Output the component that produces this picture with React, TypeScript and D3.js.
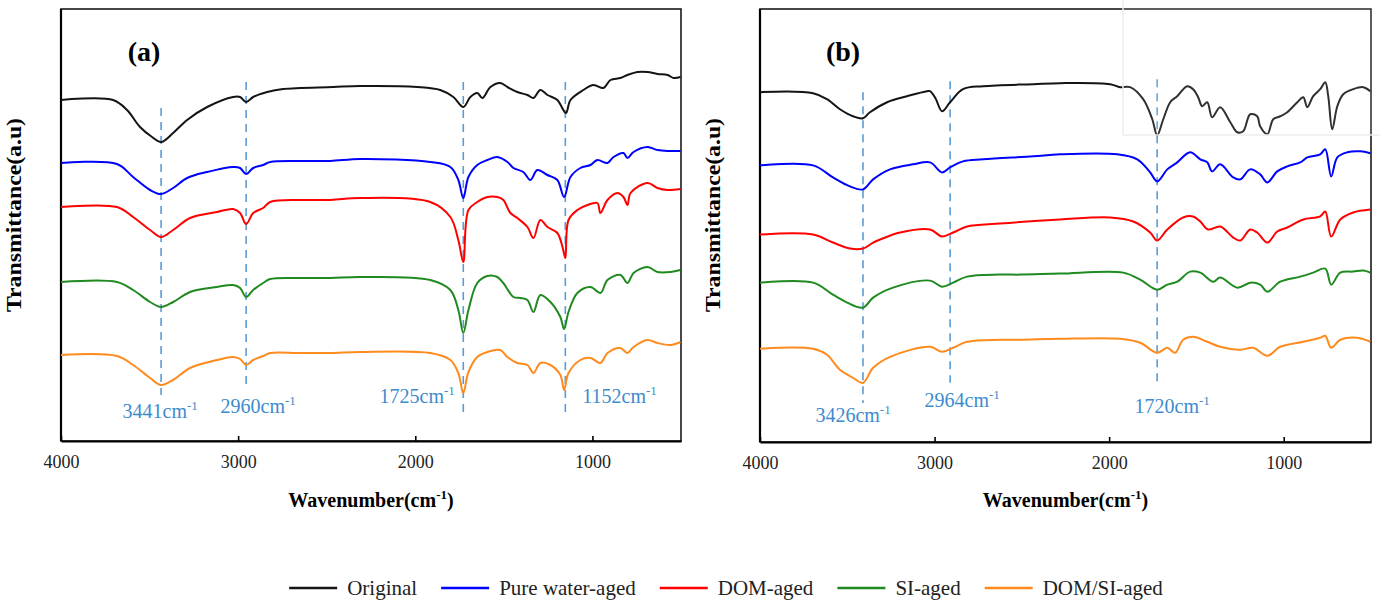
import React, { useRef, useEffect } from "react";
import * as d3 from "d3";

type Pt = [number, number];

const seriesNames = ["Original", "Pure water-aged", "DOM-aged", "SI-aged", "DOM/SI-aged"];
const seriesColors = ["#141414", "#0000ff", "#ff0000", "#1f8a1f", "#ff8a1e"];
const xTicks = [4000, 3000, 2000, 1000];

// panel (a) spectra: [wavenumber, transmittance a.u.]
const aOriginal: Pt[] = [
  [4000, 341], [3706, 341], [3627, 331], [3554, 314], [3486, 304], [3435, 299], [3367, 308], [3288, 321],
  [3175, 334], [3028, 344], [2989, 344], [2955, 339], [2915, 344], [2836, 349], [2746, 352], [2463, 354],
  [2311, 355], [1989, 354], [1859, 351], [1785, 344], [1729, 334], [1689, 344], [1650, 348], [1621, 343],
  [1576, 354], [1520, 358], [1480, 354], [1424, 349], [1367, 346], [1333, 343], [1294, 351], [1254, 346],
  [1198, 341], [1150, 328], [1124, 341], [1051, 351], [994, 356], [938, 353], [898, 361], [842, 363],
  [802, 366], [746, 369], [689, 369], [633, 367], [576, 366], [542, 363], [503, 364],
];
const aPureWater: Pt[] = [
  [4000, 278], [3684, 277], [3593, 264], [3497, 251], [3435, 247], [3367, 253], [3288, 263], [3175, 269],
  [3028, 274], [2989, 273], [2955, 267], [2915, 273], [2859, 276], [2819, 279], [2650, 280], [2480, 280],
  [2311, 282], [1915, 279], [1802, 274], [1757, 261], [1729, 243], [1700, 264], [1650, 276], [1593, 281],
  [1537, 284], [1480, 279], [1446, 273], [1390, 269], [1350, 261], [1311, 271], [1254, 266], [1198, 261],
  [1160, 244], [1124, 264], [1068, 273], [1011, 276], [972, 281], [915, 278], [881, 284], [825, 288],
  [802, 283], [768, 289], [689, 294], [633, 291], [576, 290], [503, 290],
];
const aDom: Pt[] = [
  [4000, 234], [3684, 234], [3593, 224], [3497, 211], [3435, 204], [3367, 211], [3271, 223], [3119, 229],
  [3028, 232], [2989, 228], [2955, 217], [2915, 228], [2859, 233], [2819, 239], [2650, 241], [2480, 241],
  [2311, 243], [1915, 239], [1802, 224], [1757, 201], [1729, 179], [1700, 231], [1650, 239], [1593, 244],
  [1537, 244], [1503, 241], [1463, 228], [1424, 223], [1367, 214], [1333, 203], [1294, 221], [1254, 214],
  [1198, 208], [1169, 194], [1153, 183], [1135, 221], [1085, 231], [1028, 236], [972, 238], [955, 228],
  [915, 241], [859, 248], [825, 244], [802, 236], [785, 248], [689, 258], [633, 253], [576, 251], [503, 252],
];
const aSi: Pt[] = [
  [4000, 159], [3684, 159], [3593, 151], [3497, 139], [3435, 134], [3367, 139], [3271, 149], [3119, 154],
  [3028, 156], [2989, 153], [2955, 144], [2915, 151], [2859, 158], [2819, 162], [2650, 163], [2480, 163],
  [2311, 164], [1915, 161], [1802, 151], [1757, 131], [1729, 108], [1700, 131], [1650, 158], [1593, 165],
  [1537, 164], [1503, 158], [1446, 144], [1407, 143], [1367, 141], [1333, 129], [1294, 146], [1237, 139],
  [1181, 124], [1160, 112], [1135, 129], [1085, 148], [1011, 154], [955, 148], [915, 161], [842, 166],
  [802, 158], [768, 168], [689, 174], [633, 169], [559, 169], [503, 171],
];
const aDomSi: Pt[] = [
  [4000, 86], [3684, 85], [3593, 76], [3497, 63], [3435, 56], [3367, 61], [3271, 73], [3119, 81],
  [3028, 84], [2989, 82], [2955, 76], [2915, 81], [2859, 85], [2819, 88], [2650, 88], [2480, 88],
  [2311, 89], [1915, 88], [1802, 81], [1757, 68], [1729, 48], [1700, 69], [1650, 84], [1593, 89],
  [1520, 91], [1480, 84], [1424, 78], [1367, 76], [1333, 68], [1294, 78], [1237, 76], [1181, 66],
  [1160, 51], [1135, 68], [1068, 81], [1011, 83], [955, 78], [915, 88], [842, 93], [802, 88],
  [768, 94], [689, 101], [633, 98], [559, 96], [503, 99],
];

// panel (b) spectra
const bOriginal: Pt[] = [
  [4000, 349], [3696, 348], [3616, 342], [3542, 332], [3467, 325], [3410, 323], [3370, 329], [3272, 339],
  [3158, 345], [3043, 350], [3026, 350], [2995, 343], [2957, 330], [2911, 339], [2837, 352], [2722, 355],
  [2435, 357], [2281, 358], [1994, 357], [1937, 354], [1880, 354], [1805, 342], [1753, 322], [1725, 306],
  [1690, 322], [1650, 339], [1610, 345], [1553, 355], [1519, 352], [1490, 344], [1467, 335], [1438, 339],
  [1410, 324], [1364, 334], [1306, 319], [1266, 309], [1232, 310], [1192, 327], [1152, 325], [1135, 315],
  [1094, 307], [1060, 322], [1020, 325], [980, 329], [922, 339], [888, 344], [865, 334], [831, 345],
  [791, 352], [762, 359], [745, 345], [722, 312], [693, 335], [659, 347], [602, 352], [544, 354], [504, 350],
];
const bPureWater: Pt[] = [
  [4000, 276], [3696, 276], [3582, 264], [3484, 255], [3410, 252], [3352, 262], [3255, 272], [3123, 277],
  [3026, 279], [2957, 269], [2911, 274], [2837, 280], [2722, 282], [2435, 285], [2281, 287], [1954, 287],
  [1839, 282], [1765, 269], [1725, 260], [1667, 272], [1610, 279], [1536, 289], [1478, 282], [1438, 279],
  [1410, 270], [1364, 277], [1289, 264], [1249, 262], [1192, 272], [1135, 267], [1094, 259], [1037, 270],
  [980, 275], [905, 279], [865, 284], [791, 287], [762, 292], [728, 265], [693, 284], [636, 289],
  [561, 290], [504, 288],
];
const bDom: Pt[] = [
  [4000, 207], [3696, 207], [3582, 199], [3484, 193], [3410, 193], [3352, 199], [3312, 202], [3198, 209],
  [3026, 212], [2957, 205], [2894, 209], [2814, 215], [2625, 218], [2281, 222], [1994, 224], [1862, 220],
  [1765, 209], [1725, 201], [1667, 212], [1576, 224], [1519, 225], [1478, 220], [1433, 212], [1364, 215],
  [1289, 204], [1249, 201], [1192, 212], [1152, 209], [1094, 199], [1037, 210], [980, 214], [888, 222],
  [791, 225], [762, 230], [728, 205], [676, 222], [602, 229], [504, 232],
];
const bSi: Pt[] = [
  [4000, 159], [3696, 159], [3582, 147], [3501, 139], [3410, 134], [3352, 144], [3238, 154], [3026, 161],
  [2957, 155], [2894, 159], [2814, 165], [2625, 167], [2510, 167], [2281, 168], [1920, 169], [1822, 162],
  [1725, 152], [1667, 157], [1610, 160], [1536, 170], [1478, 169], [1404, 160], [1364, 164], [1266, 154],
  [1192, 159], [1135, 157], [1094, 150], [1020, 160], [905, 165], [831, 169], [762, 173], [728, 157],
  [676, 169], [602, 170], [544, 171], [504, 169],
];
const bDomSi: Pt[] = [
  [4000, 93], [3696, 93], [3616, 87], [3542, 72], [3467, 64], [3410, 59], [3352, 74], [3255, 85],
  [3026, 95], [2957, 90], [2894, 94], [2814, 100], [2625, 102], [2510, 102], [2281, 103], [1937, 103],
  [1822, 99], [1725, 89], [1667, 94], [1622, 89], [1576, 102], [1519, 105], [1438, 100], [1364, 95],
  [1249, 92], [1175, 94], [1094, 86], [1020, 95], [888, 100], [791, 104], [762, 106], [728, 94],
  [676, 102], [579, 104], [504, 100],
];

// marked bands: line position, vertical extent, label and label anchor
const aMarkers = [
  { wn: 3435, top: 333, bottom: 46, label: "3441", labelWn: 3440, labelVal: 23 },
  { wn: 2955, top: 359, bottom: 56, label: "2960", labelWn: 2887, labelVal: 28 },
  { wn: 1729, top: 359, bottom: 29, label: "1725", labelWn: 1989, labelVal: 38 },
  { wn: 1153, top: 359, bottom: 29, label: "1152", labelWn: 847, labelVal: 38 },
];
const bMarkers = [
  { wn: 3410, top: 349, bottom: 39, label: "3426", labelWn: 3467, labelVal: 20 },
  { wn: 2911, top: 360, bottom: 59, label: "2964", labelWn: 2842, labelVal: 35 },
  { wn: 1725, top: 362, bottom: 59, label: "1720", labelWn: 1639, labelVal: 29 },
];

const panels = [
  { tag: "(a)", series: [aOriginal, aPureWater, aDom, aSi, aDomSi], markers: aMarkers, left: 61, right: 681, top: 9, bottom: 441 },
  { tag: "(b)", series: [bOriginal, bPureWater, bDom, bSi, bDomSi], markers: bMarkers, left: 760, right: 1371, top: 9, bottom: 442 },
];

const FONT = "'Liberation Serif', 'Times New Roman', serif";
const MARK = "#5b9bd5";

export default function App() {
  const svgRef = useRef<SVGSVGElement>(null);

  useEffect(() => {
    const svg = d3.select(svgRef.current);
    svg.selectAll("*").remove();
    svg.append("rect").attr("width", 1380).attr("height", 606).attr("fill", "#fff");

    panels.forEach((p, pi) => {
      const x = d3.scaleLinear().domain([4000, 500]).range([p.left, p.right]);
      const y = d3.scaleLinear().domain([0, 432]).range([p.bottom, p.top]);
      const g = svg.append("g");

      // frame
      g.append("rect")
        .attr("x", p.left).attr("y", p.top)
        .attr("width", p.right - p.left).attr("height", p.bottom - p.top)
        .attr("fill", "none").attr("stroke", "#1a1a1a").attr("stroke-width", 1.6);

      // x axis with inside ticks
      const ax = g.append("g")
        .attr("transform", `translate(0,${p.bottom})`)
        .call(d3.axisBottom(x).tickValues(xTicks).tickFormat(d3.format("d")).tickSize(-5).tickSizeOuter(0).tickPadding(14));
      ax.select(".domain").attr("stroke", "#000").attr("stroke-width", 2.2);
      ax.selectAll(".tick line").attr("stroke", "#000").attr("stroke-width", 1.6);
      ax.selectAll(".tick text")
        .attr("font-family", FONT).attr("font-size", 18).attr("fill", "#222");
      g.append("line")
        .attr("x1", p.left).attr("x2", p.left).attr("y1", p.top).attr("y2", p.bottom)
        .attr("stroke", "#000").attr("stroke-width", 2.2);

      // dashed band markers
      p.markers.forEach((m) => {
        g.append("line")
          .attr("x1", x(m.wn)).attr("x2", x(m.wn))
          .attr("y1", y(m.top)).attr("y2", y(m.bottom))
          .attr("stroke", MARK).attr("stroke-width", 1.6).attr("stroke-dasharray", "8,6");
      });

      // spectra
      const line = d3.line<Pt>()
        .x((d) => x(d[0]))
        .y((d) => y(d[1]))
        .curve(d3.curveCatmullRom.alpha(0.5));
      p.series.forEach((s, i) => {
        g.append("path")
          .datum(s)
          .attr("fill", "none")
          .attr("stroke", seriesColors[i])
          .attr("stroke-width", 2)
          .attr("stroke-linejoin", "round")
          .attr("d", line);
      });

      // marker labels
      p.markers.forEach((m) => {
        const t = g.append("text")
          .attr("x", x(m.labelWn)).attr("y", y(m.labelVal))
          .attr("text-anchor", "middle")
          .attr("font-family", FONT).attr("font-size", 20).attr("fill", "#3d8bcd");
        t.append("tspan").text(`${m.label}cm`);
        t.append("tspan").attr("dy", -8).attr("font-size", 13).text("-1");
      });

      // panel tag
      g.append("text")
        .attr("x", p.left + 83).attr("y", 61)
        .attr("text-anchor", "middle")
        .attr("font-family", FONT).attr("font-weight", "bold").attr("font-size", 28)
        .text(p.tag);

      // axis titles
      const xt = g.append("text")
        .attr("x", (p.left + p.right) / 2).attr("y", 507)
        .attr("text-anchor", "middle")
        .attr("font-family", FONT).attr("font-weight", "bold").attr("font-size", 20);
      xt.append("tspan").text("Wavenumber(cm");
      xt.append("tspan").attr("dy", -8).attr("font-size", 13).text("-1");
      xt.append("tspan").attr("dy", 8).text(")");

      g.append("text")
        .attr("transform", `translate(${p.left - 40},${215}) rotate(-90)`)
        .attr("text-anchor", "middle")
        .attr("font-family", FONT).attr("font-weight", "bold").attr("font-size", 21)
        .attr("textLength", 194).attr("lengthAdjust", "spacingAndGlyphs")
        .text("Transmittance(a.u)");

      if (pi === 1) {
        // faint overlay box seen in the top-right corner of the source image
        svg.append("rect")
          .attr("x", 1123).attr("y", -2).attr("width", 262).attr("height", 137)
          .attr("fill", "rgba(255,255,255,0.12)").attr("stroke", "#ededed").attr("stroke-width", 1.5);
      }
    });

    // legend
    const legend = svg.append("g");
    let cx = 0;
    seriesNames.forEach((name, i) => {
      const it = legend.append("g");
      it.append("line")
        .attr("x1", 0).attr("x2", 48).attr("y1", 0).attr("y2", 0)
        .attr("stroke", seriesColors[i]).attr("stroke-width", 2.5);
      const txt = it.append("text")
        .attr("x", 58).attr("y", 7)
        .attr("font-family", FONT).attr("font-size", 21).attr("fill", "#222")
        .text(name);
      const w = (txt.node() as SVGTextElement).getComputedTextLength();
      it.attr("transform", `translate(${cx},0)`);
      cx += 58 + w + 24;
    });
    const total = cx - 24;
    legend.attr("transform", `translate(${726 - total / 2},588)`);
  }, []);

  return (
    <svg
      ref={svgRef}
      width={1380}
      height={606}
      style={{ position: "absolute", left: 0, top: 0 }}
    />
  );
}
